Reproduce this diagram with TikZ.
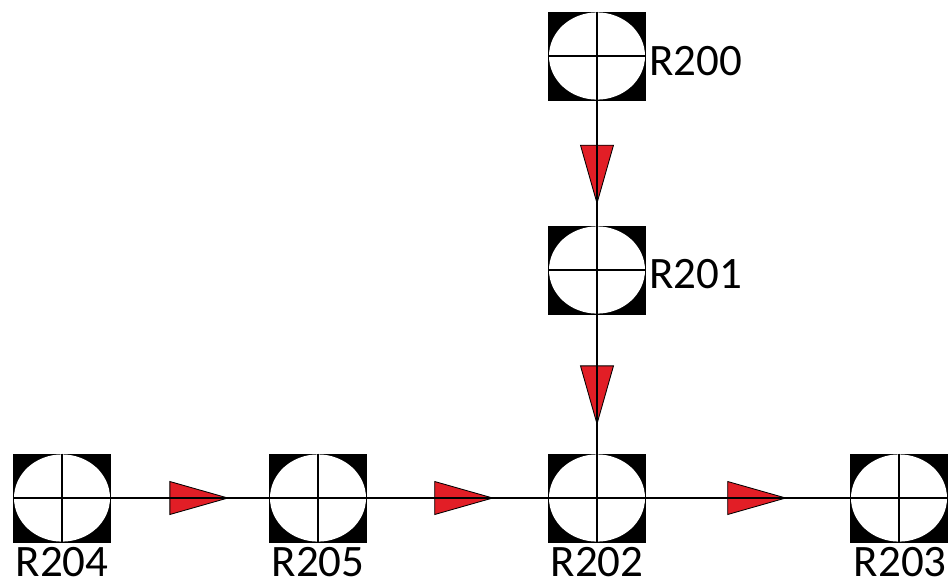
\documentclass[tikz,border=0pt]{standalone}
\usepackage{fontspec}
\setmainfont{Carlito}
\usepackage{xcolor}
\usetikzlibrary{positioning, shapes.geometric}

\definecolor{markred}{RGB}{226,30,38}

\tikzset{
  reactor/.style={rectangle, fill=black, minimum width=2.45cm, minimum height=2.225cm, inner sep=0pt,
    path picture={
      \fill[white] (path picture bounding box.center) ellipse [x radius=1.2cm, y radius=1.09cm];
      \draw (path picture bounding box.north) -- (path picture bounding box.south);
      \draw (path picture bounding box.west) -- (path picture bounding box.east);
    }},
  tag/.style={font=\fontsize{32}{38}\selectfont, inner sep=1.5pt},
  flowmark/.style={isosceles triangle, isosceles triangle stretches, fill=markred, draw=black,
    line width=0.6pt, minimum height=1.45cm, minimum width=0.825cm, inner sep=0pt, sloped, anchor=center}
}

\begin{document}
\begin{tikzpicture}[on grid, node distance=5cm, line width=0.9pt]
       \useasboundingbox (0,0) rectangle (23.8,-14.65);
       \node[reactor, label={[tag, label distance=0.03cm]below:R204}] (R204) at (1.55,-12.45) {};
       \node[reactor, label={[tag, label distance=0.03cm]below:R205}] (R205) [right=6.4cm of R204] {};
       \node[reactor, label={[tag, label distance=0.03cm]below:R202}] (R202) [right=6.975cm of R205] {};
       \node[reactor, label={[tag, label distance=0.03cm, xshift=0.03cm]below:R203}] (R203) [right=7.55cm of R202] {};
       \node[reactor, label={[tag, yshift=-0.1cm]right:R201}] (R201) [above=5.7cm of R202] {};
       \node[reactor, label={[tag, yshift=-0.12cm]right:R200}] (R200) [above=5.35cm of R201] {};

       \path
       (R200.center) edge[draw=none] node[flowmark, pos=0.475] {} (R201.center)
       (R201.center) edge[draw=none] node[flowmark, pos=0.475] {} (R202.center)
       (R204.center) edge[draw=none] node[flowmark, pos=0.47] {} (R205.center)
       (R205.center) edge[draw=none] node[flowmark, pos=0.463] {} (R202.center)
       (R202.center) edge[draw=none] node[flowmark, pos=0.474] {} (R203.center);

       \draw (R200.center) -- (R201.center) -- (R202.center);
       \draw (R204.center) -- (R205.center) -- (R202.center) -- (R203.center);
    \end{tikzpicture}
\end{document}
